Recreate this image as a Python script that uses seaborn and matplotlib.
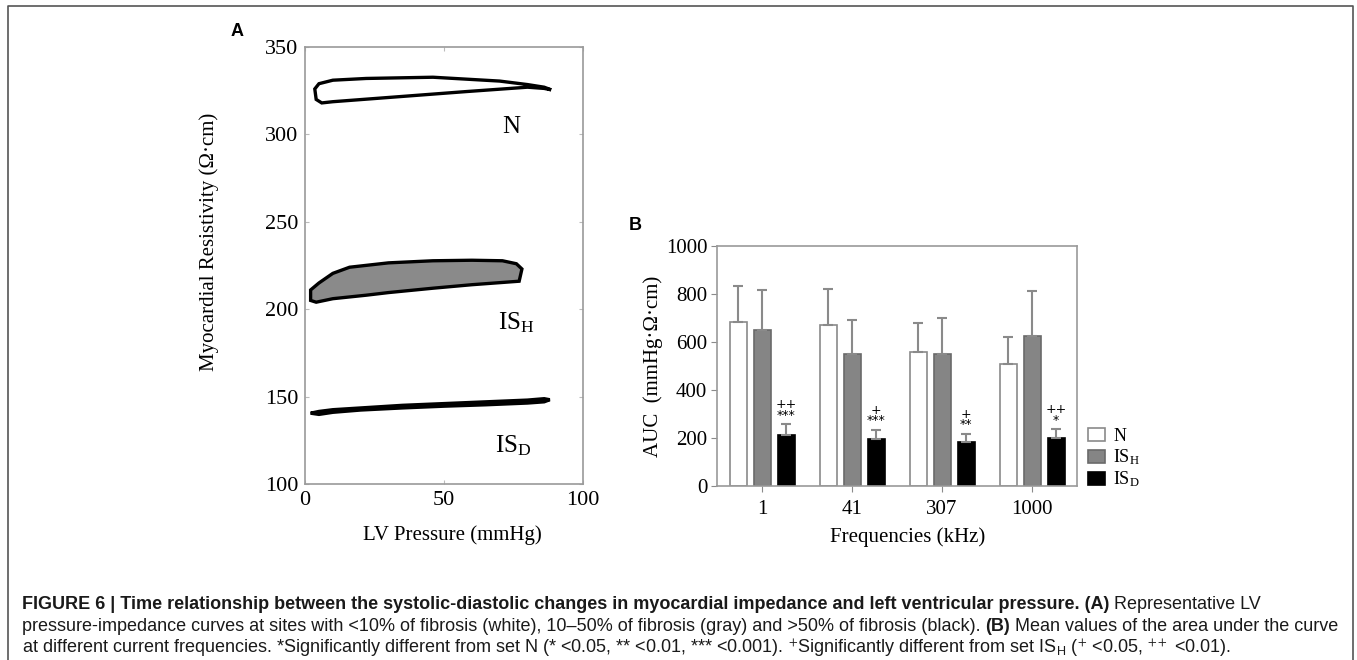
import numpy as np
import pandas as pd
import matplotlib
matplotlib.use("Agg")
import matplotlib.pyplot as plt
import matplotlib.text as mtext
import seaborn as sns
from matplotlib.patches import Patch

# ---------------- data ----------------
# Panel A: pressure-impedance loops (x = LV pressure, y = resistivity)
loop_n_x = [4, 3.5, 5, 10, 22, 46, 70, 80, 86, 88.5, 86, 80, 58, 34, 10, 6, 4]
loop_n_y = [320, 326, 329, 331, 332, 332.7, 330.5, 328.5, 327, 325.5, 326.3, 327, 324.5, 321.6, 318.7, 318, 320]
loop_h_x = [2, 2, 5, 10, 16, 30, 46, 60, 71, 76, 78, 77, 60, 46, 30, 22, 10, 4, 2]
loop_h_y = [205, 211, 215, 220.5, 224, 226.5, 227.7, 228, 227.7, 226, 223, 216, 214, 212, 209.5, 208, 206, 204, 205]
loop_d_x = [2, 5, 10, 20, 35, 50, 65, 80, 86, 88, 86, 80, 65, 50, 35, 20, 10, 5, 2]
loop_d_y = [140.5, 141.5, 142.5, 143.5, 145, 146, 147, 148, 148.8, 148.2, 147, 146.3, 145.3, 144.5, 143.5, 142.3, 141, 139.8, 140.5]
loop_labels = ["N", r"IS$_\mathregular{H}$", r"IS$_\mathregular{D}$"]

# Panel B: AUC by frequency
freqs = ["1", "41", "307", "1000"]
groups = ["N", "IS_H", "IS_D"]
auc_n = [685, 672, 558, 510]
err_n = [150, 150, 120, 110]
auc_ish = [652, 550, 550, 625]
err_ish = [163, 143, 150, 187]
auc_isd = [212, 195, 182, 200]
err_isd = [46, 40, 36, 36]
sig_isd = ["++\n***", "+\n***", "+\n**", "++\n*"]

# ---------------- figure ----------------
plt.rcParams["font.family"] = ["Liberation Serif", "DejaVu Serif"]
plt.rcParams["mathtext.fontset"] = "stix"
fig = plt.figure(figsize=(13.57, 6.6), dpi=100)

spine_c = "#9a9a9a"

# ---- Panel A ----
axA = fig.add_axes([0.2248, 0.2667, 0.2049, 0.6621])
axA.fill(loop_n_x, loop_n_y, facecolor="white", edgecolor="black", linewidth=2.4)
axA.fill(loop_h_x, loop_h_y, facecolor="#8a8a8a", edgecolor="black", linewidth=2.4)
axA.fill(loop_d_x, loop_d_y, facecolor="black", edgecolor="black", linewidth=2.4)
axA.set_xlim(0, 100)
axA.set_ylim(100, 350)
axA.set_xticks([0, 50, 100])
axA.set_yticks([100, 150, 200, 250, 300, 350])
axA.tick_params(direction="in", top=True, right=True, length=3, color="#bbbbbb",
                labelsize=16, pad=5)
for s in axA.spines.values():
    s.set_color(spine_c)
    s.set_linewidth(1.2)
axA.set_xlabel("LV Pressure (mmHg)", fontsize=15)
axA.set_ylabel("Myocardial Resistivity (Ω·cm)", fontsize=15)
axA.xaxis.set_label_coords(0.529, -0.094)
axA.yaxis.set_label_coords(-0.31, 0.554)
axA.text(74, 304, loop_labels[0], fontsize=18, ha="center", va="center")
axA.text(76, 192, loop_labels[1], fontsize=18, ha="center", va="center")
axA.text(75, 122, loop_labels[2], fontsize=18, ha="center", va="center")
fig.text(237 / 1357, 1 - 32 / 660, "A", fontsize=13, fontweight="bold",
         family="Liberation Sans", ha="center", va="center")

# ---- Panel B ----
axB = fig.add_axes([0.5284, 0.2636, 0.2653, 0.3636])
df = pd.DataFrame({
    "freq": freqs * 3,
    "group": [groups[0]] * 4 + [groups[1]] * 4 + [groups[2]] * 4,
    "auc": auc_n + auc_ish + auc_isd,
})
face = {"N": "white", "IS_H": "#858585", "IS_D": "black"}
edge = {"N": "#8a8a8a", "IS_H": "#6a6a6a", "IS_D": "black"}
sns.barplot(data=df, x="freq", y="auc", hue="group", order=freqs, hue_order=groups,
            palette=face, width=0.8, gap=0.29, errorbar=None, legend=False, ax=axB,
            linewidth=1.2, saturation=1)
errs = {"N": err_n, "IS_H": err_ish, "IS_D": err_isd}
vals = {"N": auc_n, "IS_H": auc_ish, "IS_D": auc_isd}
for gi, (g, cont) in enumerate(zip(groups, axB.containers)):
    xs = []
    for p in cont.patches:
        p.set_edgecolor(edge[g])
        xs.append(p.get_x() + p.get_width() / 2)
    e = errs[g]
    axB.errorbar(xs, vals[g], yerr=[[0] * len(e), e], fmt="none", ecolor="#8a8a8a",
                 elinewidth=1.5, capsize=3.5, capthick=1.5, zorder=1)
    if g == "IS_D":
        for x, v, er, lab in zip(xs, vals[g], e, sig_isd):
            axB.text(x, v + er + 10, lab, ha="center", va="bottom", fontsize=9,
                     linespacing=0.75, family="DejaVu Sans")
axB.set_xlim(-0.5, 3.5)
axB.set_ylim(0, 1000)
axB.set_yticks([0, 200, 400, 600, 800, 1000])
axB.tick_params(direction="out", length=4, color="#8a8a8a", labelsize=15, pad=3)
axB.tick_params(axis="x", pad=6)
for s in axB.spines.values():
    s.set_color(spine_c)
    s.set_linewidth(1.2)
axB.set_xlabel("Frequencies (kHz)", fontsize=15)
axB.set_ylabel("AUC  (mmHg·Ω·cm)", fontsize=15)
axB.xaxis.set_label_coords(0.53, -0.172)
axB.yaxis.set_label_coords(-0.15, 0.5)
handles = [Patch(facecolor=face[g], edgecolor=edge[g], linewidth=1.2) for g in groups]
axB.legend(handles, ["N", r"IS$_\mathregular{H}$", r"IS$_\mathregular{D}$"],
           loc="center left", bbox_to_anchor=(1.0, 0.115), frameon=False, fontsize=13,
           handlelength=0.95, handleheight=0.75, handletextpad=0.45, labelspacing=0.15,
           borderaxespad=0.2)
fig.text(635 / 1357, 1 - 226 / 660, "B", fontsize=13, fontweight="bold",
         family="Liberation Sans", ha="center", va="center")

# ---- border ----
fig.add_artist(plt.Line2D([8 / 1357, 8 / 1357, 1353 / 1357, 1353 / 1357],
                          [0, 1 - 6 / 660, 1 - 6 / 660, 0],
                          color="#555555", linewidth=1.2, transform=fig.transFigure))

# ---- caption ----
cap_font = ["Liberation Sans Narrow", "Liberation Sans"]
cs = 13
caption = [
    [("FIGURE 6 | Time relationship between the systolic-diastolic changes in myocardial impedance and left ventricular pressure. (A)", "bold"),
     (" Representative LV", "normal")],
    [("pressure-impedance curves at sites with <10% of fibrosis (white), 10–50% of fibrosis (gray) and >50% of fibrosis (black). ", "normal"),
     ("(B)", "bold"), (" Mean values of the area under the curve", "normal")],
    [("at different current frequencies. *Significantly different from set N (* <0.05, ** <0.01, *** <0.001). "
      r"$^{+}$Significantly different from set IS$_{\mathregular{H}}$ ($^{+}$ <0.05, $^{++}$ <0.01).", "normal")],
]
ys = [1 - 609 / 660, 1 - 631 / 660, 1 - 653 / 660]
for parts, y in zip(caption, ys):
    prev = None
    for txt, w in parts:
        if prev is None:
            prev = fig.text(22 / 1357, y, txt, fontsize=cs, fontweight=w,
                            family=cap_font, va="baseline", color="#1a1a1a")
        else:
            prev = fig.add_artist(mtext.Annotation(
                txt, xy=(1, 0), xycoords=prev, xytext=(0, 0), textcoords="offset points",
                va="bottom", ha="left", fontsize=cs, fontweight=w, family=cap_font,
                color="#1a1a1a"))

fig.savefig("out.png", dpi=100)
